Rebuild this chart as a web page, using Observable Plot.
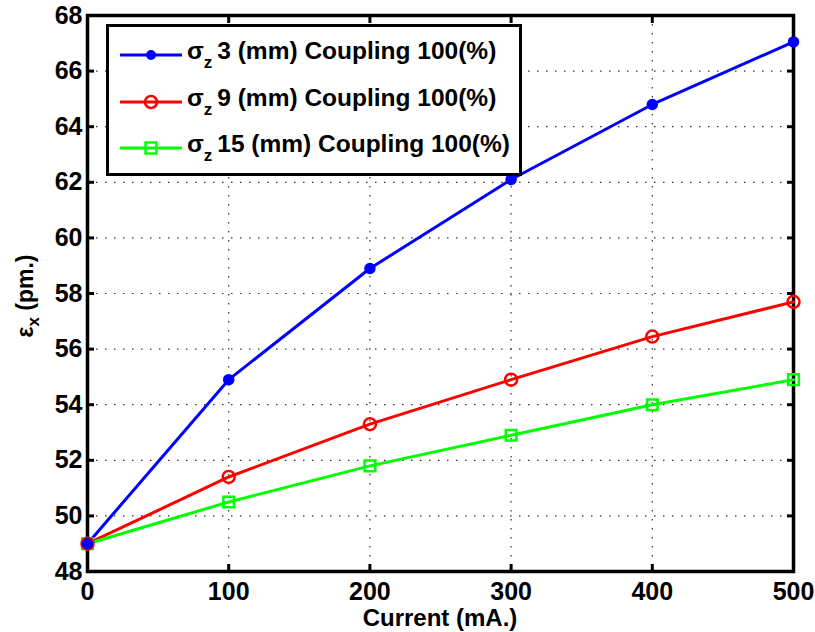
<!DOCTYPE html>
<html>
<head>
<meta charset="utf-8">
<script src="https://cdn.jsdelivr.net/npm/d3@7"></script>
<script src="https://cdn.jsdelivr.net/npm/@observablehq/plot@0.6"></script>
<style>
  html, body { margin: 0; padding: 0; background: #fff; }
  #wrap { position: relative; width: 815px; height: 632px; font-family: "Liberation Sans", Arial, sans-serif; }
  #legend { position: absolute; left: 106px; top: 24px; width: 410px; height: 146px; border: 3px solid #000; background: #fff; box-sizing: content-box; }
  .row { position: absolute; left: 0; height: 30px; display: flex; align-items: center; }
  .row svg { margin-left: 11px; }
  .lab { font-weight: bold; font-size: 24.5px; margin-left: 5px; white-space: nowrap; color: #000; }
  .lab sub { font-size: 17px; vertical-align: -9px; margin-right: 5px; }
  #ytitle { position: absolute; left: 28px; top: 296px; transform: translate(-50%, -50%) rotate(-90deg); font-weight: bold; font-size: 23px; white-space: nowrap; }
  #ytitle sub { font-size: 17px; vertical-align: -6px; }
  #xtitle { position: absolute; left: 440px; top: 618px; transform: translate(-50%, -50%); font-weight: bold; font-size: 24px; white-space: nowrap; }
</style>
</head>
<body>
<div id="wrap">
  <div id="chart"></div>
  <div id="legend"></div>
  <div id="ytitle">ε<sub>x</sub> (pm.)</div>
  <div id="xtitle">Current (mA.)</div>
</div>
<script>
const current = [0, 100, 200, 300, 400, 500];
const sigma3 = [49.0, 54.9, 58.9, 62.1, 64.8, 67.05];
const sigma9 = [49.0, 51.4, 53.3, 54.9, 56.45, 57.7];
const sigma15 = [49.0, 50.5, 51.8, 52.9, 54.0, 54.9];
const seriesNames = ["3", "9", "15"];
const seriesColors = ["#0000ff", "#ff0000", "#00ff00"];
const xTicks = [0, 100, 200, 300, 400, 500];
const yTicks = [48, 50, 52, 54, 56, 58, 60, 62, 64, 66, 68];

const mk = (vals, s) => current.map((c, i) => ({x: c, y: vals[i], s}));
const d3mm = mk(sigma3, "3");
const d9mm = mk(sigma9, "9");
const d15mm = mk(sigma15, "15");

const tickFont = {fontSize: 25, fontWeight: "bold"};

const chart = Plot.plot({
  width: 815,
  height: 632,
  marginLeft: 87,
  marginRight: 22,
  marginTop: 15,
  marginBottom: 61,
  style: {fontFamily: "Liberation Sans, Arial, sans-serif", background: "#fff", color: "#000"},
  x: {domain: [0, 500], ticks: xTicks},
  y: {domain: [48, 68], ticks: yTicks},
  marks: [
    Plot.gridX(xTicks, {stroke: "#333", strokeOpacity: 1, strokeWidth: 1.2, strokeDasharray: "1.5,7.5"}),
    Plot.gridY(yTicks, {stroke: "#333", strokeOpacity: 1, strokeWidth: 1.2, strokeDasharray: "1.5,7.5"}),
    Plot.axisX(xTicks, {anchor: "bottom", tickSize: -7, strokeWidth: 3, tickPadding: 18, ...tickFont, label: null}),
    Plot.axisX(xTicks, {anchor: "top", tickSize: -7, strokeWidth: 3, tickFormat: () => "", label: null}),
    Plot.axisY(yTicks, {anchor: "left", tickSize: -7, strokeWidth: 3, tickPadding: 12, ...tickFont, label: null}),
    Plot.axisY(yTicks, {anchor: "right", tickSize: -7, strokeWidth: 3, tickFormat: () => "", label: null}),
    Plot.frame({stroke: "#000", strokeWidth: 3.5}),
    Plot.line(d3mm, {x: "x", y: "y", stroke: seriesColors[0], strokeWidth: 3}),
    Plot.line(d9mm, {x: "x", y: "y", stroke: seriesColors[1], strokeWidth: 3}),
    Plot.line(d15mm, {x: "x", y: "y", stroke: seriesColors[2], strokeWidth: 3}),
    Plot.dot(d15mm, {x: "x", y: "y", symbol: "square", r: 6, stroke: seriesColors[2], strokeWidth: 2.5, fill: "none"}),
    Plot.dot(d9mm, {x: "x", y: "y", r: 6, stroke: seriesColors[1], strokeWidth: 2.5, fill: "none"}),
    Plot.dot(d3mm, {x: "x", y: "y", r: 5, fill: seriesColors[0], stroke: seriesColors[0]})
  ]
});
document.getElementById("chart").appendChild(chart);

// legend
const legend = document.getElementById("legend");
const rowTops = [13, 60, 106];
const symbols = [
  '<circle cx="31" cy="10" r="5" fill="#0000ff"/>',
  '<circle cx="31" cy="10" r="6" fill="none" stroke="#ff0000" stroke-width="2.5"/>',
  '<rect x="25.5" y="4.5" width="11" height="11" fill="none" stroke="#00ff00" stroke-width="2.5"/>'
];
seriesNames.forEach((n, i) => {
  const row = document.createElement("div");
  row.className = "row";
  row.style.top = rowTops[i] + "px";
  row.innerHTML = `<svg width="62" height="20"><line x1="0" y1="10" x2="62" y2="10" stroke="${seriesColors[i]}" stroke-width="3"/>${symbols[i]}</svg>` +
    `<span class="lab">σ<sub>z</sub>${n} (mm) Coupling 100(%)</span>`;
  legend.appendChild(row);
});
</script>
</body>
</html>
